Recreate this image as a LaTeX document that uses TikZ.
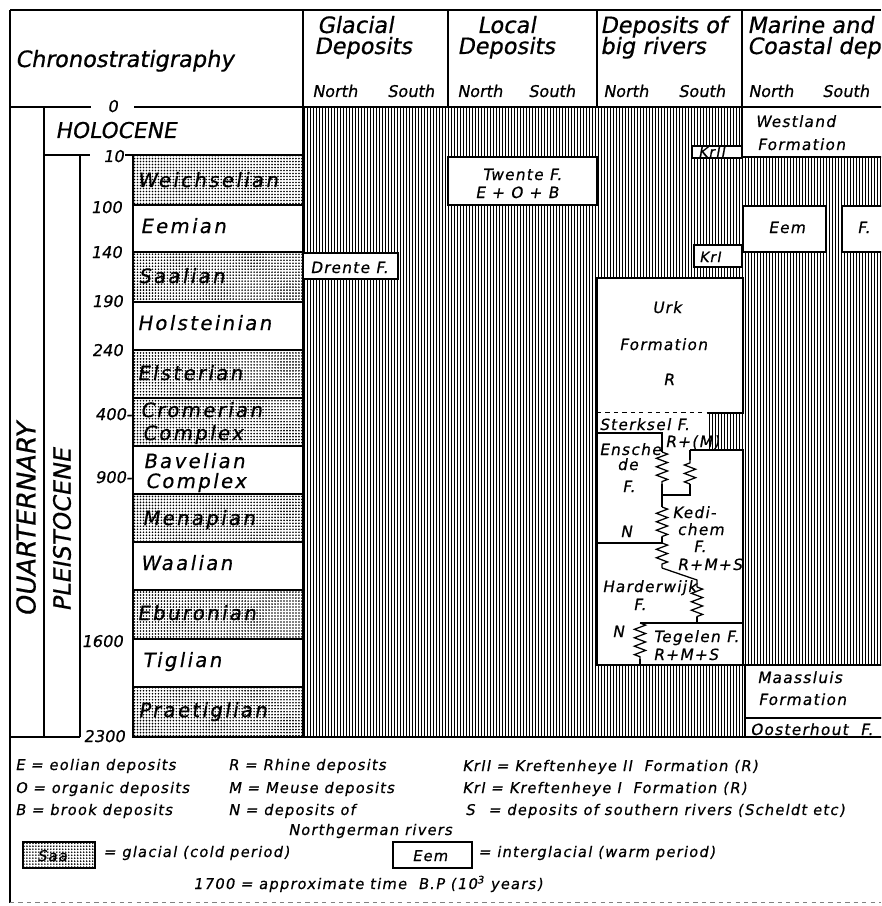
\documentclass[tikz,border=0pt]{standalone}
\usepackage{fontspec}
\usetikzlibrary{patterns.meta,decorations.pathmorphing}
\newfontfamily\lett{DejaVu Sans}[FakeSlant=0.18,FakeBold=0.6]
\newfontfamily\lettw{DejaVu Sans}[FakeSlant=0.18,FakeBold=0.6,LetterSpace=12]
\newfontfamily\lettb{DejaVu Sans}[FakeSlant=0.18,FakeBold=0.6,LetterSpace=8]

\begin{document}
\begin{tikzpicture}[x=0.025cm,y=-0.025cm,
  hd/.style={inner sep=0,anchor=base west,font=\lett\fontsize{16}{17}\selectfont},
  ns/.style={inner sep=0,anchor=base west,font=\lett\fontsize{11.5}{12}\selectfont},
  st/.style={inner sep=0,anchor=base west,font=\lettw\fontsize{14}{15}\selectfont},
  ag/.style={inner sep=0,anchor=base east,font=\lett\fontsize{11.5}{12}\selectfont},
  bt/.style={inner sep=0,anchor=base west,font=\lettb\fontsize{11}{12}\selectfont},
  lg/.style={inner sep=0,anchor=base west,font=\lettb\fontsize{10.5}{12}\selectfont},
  hatch/.style={line width=1.3pt},
  stip/.style={pattern={Dots[distance=2.126pt,radius=0.65pt]}},
  box/.style={draw,line width=0.9pt,fill=white},
  ln/.style={line width=1.3pt},
  zz/.style={decorate,line width=0.9pt,decoration={zigzag,segment length=6pt,amplitude=4pt}}
]
\useasboundingbox (0,0) rectangle (881,906);
\clip (0,0) rectangle (881,906);
\fill[white] (0,0) rectangle (881,906);

% hatched area = no deposits
\foreach \xx in {304.5,307.5,...,881}
  \draw[hatch] (\xx,107) -- (\xx,737);

% stages
\foreach \t/\b/\g in {155/205/1,205/252/0,252/302/1,302/350/0,350/398/1,398/446/1,
  446/494/0,494/542/1,542/590/0,590/639/1,639/687/0,687/737/1}{
  \ifnum\g=1 \fill[white] (133,\t) rectangle (303,\b);
    \filldraw[stip,line width=0.9pt] (133,\t) rectangle (303,\b);
  \else \draw[box] (133,\t) rectangle (303,\b); \fi
}

% white boxes
\draw[box] (742,107) rectangle (890,157);
\draw[box] (692,146) rectangle (742,158);
\draw[box] (448,157) rectangle (597,205);
\draw[box] (743,206) rectangle (826,252);
\draw[box] (842,206) rectangle (890,252);
\draw[box] (694,245) rectangle (742,267);
\draw[box] (303,253) rectangle (398,279);
\fill[white] (597,278) rectangle (743,413);
\draw[line width=0.9pt] (597,413) -- (597,278) -- (743,278) -- (743,413) -- (707,413);
\draw[line width=0.9pt,dashed] (597,413) -- (707,413);
\fill[white] (597,413) -- (707,413) -- (707,450) -- (743,450) -- (743,665) -- (597,665) -- cycle;
\draw[line width=0.9pt] (597,413) -- (597,665) -- (745,665) (743,665) -- (743,450) -- (690,450);
\draw[box] (745,665) rectangle (890,718);
\draw[box] (745,718) rectangle (890,737);

% river formation boundaries
\draw[line width=0.9pt] (597,433) -- (662,433) -- (662,452);
\draw[zz] (662,452) -- (662,484);
\draw[line width=0.9pt] (662,484) -- (662,495) -- (690,495) -- (690,484);
\draw[zz] (690,484) -- (690,460);
\draw[line width=0.9pt] (690,460) -- (690,450);
\draw[line width=0.9pt] (662,495) -- (662,507);
\draw[zz] (662,507) -- (662,537);
\draw[line width=0.9pt] (662,537) -- (662,543) (597,543) -- (662,543);
\draw[zz] (662,543) -- (662,568);
\draw[line width=0.9pt] (662,568) -- (697,580) -- (697,587);
\draw[zz] (697,587) -- (697,617);
\draw[line width=0.9pt] (697,617) -- (697,623) (640,623) -- (743,623);
\draw[zz] (640,623) -- (640,659);
\draw[line width=0.9pt] (640,659) -- (640,665);

% frame
\draw[ln] (10,10) -- (881,10) (10,10) -- (10,903);
\draw[ln] (303,10) -- (303,737) (448,10) -- (448,107) (597,10) -- (597,107) (742,10) -- (742,107);
\draw[ln] (10,107) -- (91,107) (134,107) -- (881,107);
\draw[ln] (44,107) -- (44,737) (80,155) -- (80,737) (44,155) -- (90,155) (125,155) -- (133,155);
\draw[line width=1.8pt] (10,737) -- (80,737) (133,737) -- (881,737);
\draw[gray,dashed] (10,902) -- (881,902);

% header
\node[hd] (chrono) at (15,67) {Chronostratigraphy};
\node[hd] (gla1) at (317,33) {Glacial};
\node[hd] (gla2) at (314,54) {Deposits};
\node[hd] (loc1) at (477,33) {Local};
\node[hd] (loc2) at (457,54) {Deposits};
\node[hd] (riv1) at (600,33) {Deposits of};
\node[hd] (riv2) at (600,54) {big rivers};
\node[hd] (mar1) at (747,33) {Marine and};
\node[hd] (mar2) at (747,54) {Coastal deposits};
\foreach \n/\s [count=\i] in {312/387,457/528,603/678,748/822}{
  \node[ns] (north\i) at (\n,97) {North};
  \node[ns] (south\i) at (\s,97) {South};
}

% ages
\node[ag] (a0) at (118,112) {0};
\node[ag] (a10) at (124,162) {10};
\node[ag] (a100) at (122,213) {100};
\node[ag] (a140) at (122,258) {140};
\node[ag] (a190) at (123,307) {190};
\node[ag] (a240) at (123,356) {240};
\node[ag] (a400) at (132,420) {400-};
\node[ag] (a900) at (132,483) {900-};
\node[ag] (a1600) at (123,647) {1600};
\node[ag] (a2300) at (125,742) {2300};

% periods
\node[inner sep=0,rotate=90,font=\lett\fontsize{18.5}{19}\selectfont] (quart) at (26,520) {OUARTERNARY};
\node[inner sep=0,rotate=90,font=\lett\fontsize{17}{18}\selectfont] (pleist) at (62,530) {PLEISTOCENE};
\node[inner sep=0,anchor=base west,font=\lett\fontsize{15.5}{16}\selectfont] (holo) at (55,138) {HOLOCENE};
\node[st] (weich) at (137,187) {Weichselian};
\node[st] (eem) at (140,233) {Eemian};
\node[st] (saal) at (138,283) {Saalian};
\node[st] (holst) at (137,330) {Holsteinian};
\node[st] (elst) at (137,380) {Elsterian};
\node[st] (crom) at (140,417) {Cromerian};
\node[st] (crom2) at (142,440) {Complex};
\node[st] (bav) at (143,468) {Bavelian};
\node[st] (bav2) at (145,488) {Complex};
\node[st] (mena) at (142,525) {Menapian};
\node[st] (waal) at (140,570) {Waalian};
\node[st] (ebur) at (137,620) {Eburonian};
\node[st] (tigl) at (142,667) {Tiglian};
\node[st] (praet) at (138,717) {Praetiglian};

% formations
\node[bt] (drente) at (310,273) {Drente F.};
\node[bt] (twente) at (482,180) {Twente F.};
\node[bt] (twente2) at (475,198) {E + O + B};
\node[bt,font=\lettb\fontsize{10}{11}\selectfont] (kr2) at (698,157) {KrII};
\node[bt,font=\lettb\fontsize{10}{11}\selectfont] (kr1) at (699,262) {KrI};
\node[bt] (west) at (755,127) {Westland};
\node[bt] (west2) at (757,150) {Formation};
\node[bt] (eemf) at (768,233) {Eem};
\node[bt] (eemf2) at (857,233) {F.};
\node[bt] (urk) at (652,313) {Urk};
\node[bt] (urk2) at (619,350) {Formation};
\node[bt] (urk3) at (663,385) {R};
\node[bt] (sterk) at (599,430) {Sterksel F.};
\node[bt] (sterk2) at (665,447) {R+(M)};
\node[bt] (ensch) at (599,455) {Ensche};
\node[bt] (ensch2) at (617,470) {de};
\node[bt] (ensch3) at (622,492) {F.};
\node[bt] (enschn) at (620,537) {N};
\node[bt] (kedi) at (672,518) {Kedi-};
\node[bt] (kedi2) at (677,535) {chem};
\node[bt] (kedi3) at (693,552) {F.};
\node[bt] (kedi4) at (677,570) {R+M+S};
\node[bt] (hard) at (602,592) {Harderwijk};
\node[bt] (hard2) at (633,610) {F.};
\node[bt] (hardn) at (612,637) {N};
\node[bt] (tege) at (653,642) {Tegelen F.};
\node[bt] (tege2) at (653,660) {R+M+S};
\node[bt] (maas) at (757,683) {Maassluis};
\node[bt] (maas2) at (758,705) {Formation};
\node[bt] (oost) at (750,735) {Oosterhout\ \ F.};

% legend
\node[lg] (lgE) at (15,770) {E = eolian deposits};
\node[lg] (lgO) at (15,793) {O = organic deposits};
\node[lg] (lgB) at (15,815) {B = brook deposits};
\node[lg] (lgR) at (228,770) {R = Rhine deposits};
\node[lg] (lgM) at (228,793) {M = Meuse deposits};
\node[lg] (lgN) at (228,815) {N = deposits of};
\node[lg] (lgN2) at (288,835) {Northgerman rivers};
\node[lg] (lgK2) at (462,771) {KrII = Kreftenheye II\ \ Formation (R)};
\node[lg] (lgK1) at (462,793) {KrI = Kreftenheye I\ \ Formation (R)};
\node[lg] (lgS) at (465,815) {S};
\node[lg] (lgS2) at (488,815) {= deposits of southern rivers (Scheldt etc)};
\fill[white] (23,842) rectangle (95,868);
\filldraw[stip,line width=0.9pt] (23,842) rectangle (95,868);
\node[lg] (lgsaa) at (37,861) {Saa};
\node[lg] (lgcold) at (103,857) {= glacial (cold period)};
\draw[box] (393,842) rectangle (472,868);
\node[lg] (lgeem) at (412,861) {Eem};
\node[lg] (lgwarm) at (478,857) {= interglacial (warm period)};
\node[lg] (lgtime) at (193,889) {1700 = approximate time\ \ B.P (10\textsuperscript{3} years)};
\end{tikzpicture}
\end{document}
